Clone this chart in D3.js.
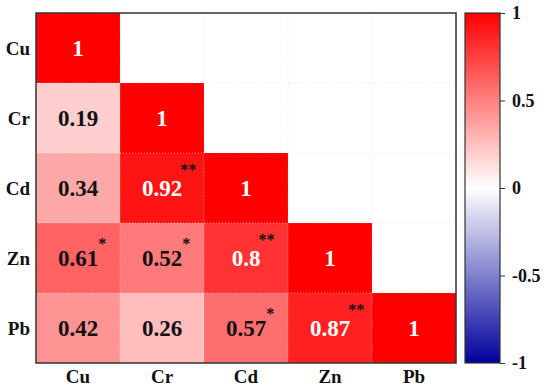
<!DOCTYPE html>
<html>
<head>
<meta charset="utf-8">
<script src="https://cdn.jsdelivr.net/npm/d3@7"></script>
<style>
  body { margin: 0; background: #fff; }
  text { font-family: "Liberation Serif", serif; font-weight: bold; }
</style>
</head>
<body>
<svg width="550" height="389"></svg>
<script>
var metals = ["Cu", "Cr", "Cd", "Zn", "Pb"];
// lower triangle, row by row (row metal, column metal)
var corrRows = [
  [1],
  [0.19, 1],
  [0.34, 0.92, 1],
  [0.61, 0.52, 0.8, 1],
  [0.42, 0.26, 0.57, 0.87, 1]
];
var stars = [
  [""],
  ["", ""],
  ["", "**", ""],
  ["*", "*", "**", ""],
  ["", "", "*", "**", ""]
];
var barTicks = [1, 0.5, 0, -0.5, -1];

var svg = d3.select("svg"),
    margin = {left: 36, top: 13, right: 94, bottom: 26},
    width = +svg.attr("width") - margin.left - margin.right,
    height = +svg.attr("height") - margin.top - margin.bottom;

var x = d3.scaleBand().domain(metals).range([margin.left, margin.left + width]);
var y = d3.scaleBand().domain(metals).range([margin.top, margin.top + height]);

var color = d3.scaleLinear()
  .domain([-1, 0, 1])
  .range(["#00009c", "#ffffff", "#ff0000"]);

var cells = [];
corrRows.forEach(function(row, i) {
  row.forEach(function(v, j) {
    cells.push({row: metals[i], col: metals[j], value: v, star: stars[i][j]});
  });
});

// faint dotted grid over whole matrix
var grid = svg.append("g");
metals.forEach(function(m, i) {
  if (i == 0) return;
  grid.append("line")
    .attr("x1", x(m)).attr("x2", x(m))
    .attr("y1", margin.top).attr("y2", margin.top + height)
    .attr("stroke", "#e6e6e6").attr("stroke-dasharray", "1,2");
  grid.append("line")
    .attr("y1", y(m)).attr("y2", y(m))
    .attr("x1", margin.left).attr("x2", margin.left + width)
    .attr("stroke", "#e6e6e6").attr("stroke-dasharray", "1,2");
});

svg.append("g")
  .selectAll("rect")
  .data(cells)
  .enter().append("rect")
  .attr("x", function(d) { return x(d.col); })
  .attr("y", function(d) { return y(d.row); })
  .attr("width", x.bandwidth())
  .attr("height", y.bandwidth())
  .attr("fill", function(d) { return color(d.value); });

// dotted light lines between filled cells
svg.append("g")
  .selectAll("rect")
  .data(cells)
  .enter().append("rect")
  .attr("x", function(d) { return x(d.col); })
  .attr("y", function(d) { return y(d.row); })
  .attr("width", x.bandwidth())
  .attr("height", y.bandwidth())
  .attr("fill", "none")
  .attr("stroke", "rgba(255,255,255,0.35)")
  .attr("stroke-width", 0.8)
  .attr("stroke-dasharray", "1,2");

var labels = svg.append("g")
  .selectAll("g")
  .data(cells)
  .enter().append("g")
  .attr("transform", function(d) {
    return "translate(" + (x(d.col) + x.bandwidth() / 2) + "," + (y(d.row) + y.bandwidth() / 2) + ")";
  });

labels.append("text")
  .attr("class", "val")
  .attr("text-anchor", "middle")
  .attr("dy", "0.35em")
  .attr("font-size", 23)
  .attr("fill", function(d) { return d.value > 0.7 ? "#fff" : "#111"; })
  .text(function(d) { return d.value; });

labels.each(function(d) {
  if (!d.star) return;
  var g = d3.select(this);
  var w = g.select("text.val").node().getComputedTextLength();
  g.append("text")
    .attr("x", d.star == "**" ? w / 2 - 2 : w / 2)
    .attr("y", d.star == "**" ? -13 : -9)
    .attr("font-size", 16)
    .attr("fill", "#111")
    .text(d.star);
});

// frame
svg.append("rect")
  .attr("x", margin.left).attr("y", margin.top)
  .attr("width", width).attr("height", height)
  .attr("fill", "none").attr("stroke", "#333").attr("stroke-width", 1.5);

// axis labels
svg.append("g")
  .selectAll("text")
  .data(metals)
  .enter().append("text")
  .attr("x", margin.left - 6)
  .attr("y", function(d) { return y(d) + y.bandwidth() / 2; })
  .attr("dy", "0.35em")
  .attr("text-anchor", "end")
  .attr("font-size", 19)
  .attr("fill", "#111")
  .text(function(d) { return d; });

svg.append("g")
  .selectAll("text")
  .data(metals)
  .enter().append("text")
  .attr("x", function(d) { return x(d) + x.bandwidth() / 2; })
  .attr("y", margin.top + height + 20)
  .attr("text-anchor", "middle")
  .attr("font-size", 19)
  .attr("fill", "#111")
  .text(function(d) { return d; });

// colour bar
var barX = 465, barW = 35;
var barScale = d3.scaleLinear().domain([-1, 1]).range([margin.top + height, margin.top]);

var defs = svg.append("defs");
var grad = defs.append("linearGradient")
  .attr("id", "bar").attr("x1", 0).attr("x2", 0).attr("y1", 1).attr("y2", 0);
[-1, -0.5, 0, 0.5, 1].forEach(function(v) {
  grad.append("stop")
    .attr("offset", (v + 1) / 2)
    .attr("stop-color", color(v));
});

svg.append("rect")
  .attr("x", barX).attr("y", margin.top)
  .attr("width", barW).attr("height", height)
  .attr("fill", "url(#bar)")
  .attr("stroke", "#333").attr("stroke-width", 1.2);

var barAxis = svg.append("g")
  .attr("transform", "translate(" + (barX + barW) + ",0)")
  .call(d3.axisRight(barScale).tickValues(barTicks).tickSize(5).tickFormat(d3.format("")));
barAxis.select(".domain").remove();
barAxis.selectAll("line").attr("stroke", "#333");
barAxis.selectAll("text")
  .attr("font-size", 18)
  .attr("font-family", "Liberation Serif")
  .attr("font-weight", "bold")
  .attr("fill", "#111")
  .attr("x", 12)
  .text(function(d) { return d == 0 ? "0" : d3.format("")(d).replace("−", "-"); });
</script>
</body>
</html>
